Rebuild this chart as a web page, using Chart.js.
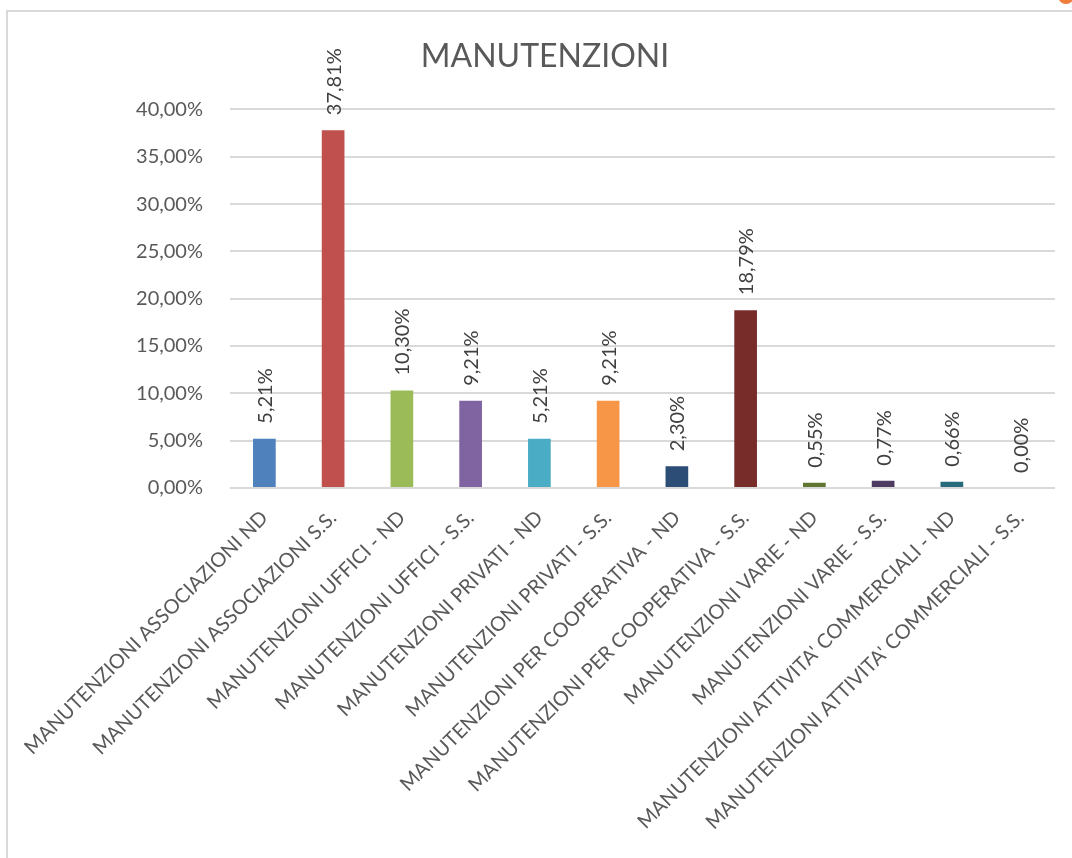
<!DOCTYPE html>
<html>
<head>
<meta charset="utf-8">
<script src="https://cdn.jsdelivr.net/npm/chart.js@4.4.1/dist/chart.umd.min.js"></script>
<style>
    html, body { margin: 0; padding: 0; background: #fff; overflow: hidden; }
    #frame { position: absolute; left: 6px; top: 10px; width: 1100px; height: 900px; border: 2px solid #d9d9d9; box-sizing: border-box; }
    #dot { position: absolute; left: 1058px; top: -12px; width: 16px; height: 16px; border-radius: 50%; background: #ef7d3c; }
    #wrap { position: absolute; left: 0; top: 0; width: 1072px; height: 858px; }
</style>
</head>
<body>
<div id="frame"></div>
<div id="dot"></div>
<div id="wrap"><canvas id="chart"></canvas></div>
<script>
const categories = [
    'MANUTENZIONI ASSOCIAZIONI ND',
    'MANUTENZIONI ASSOCIAZIONI S.S.',
    'MANUTENZIONI UFFICI - ND',
    'MANUTENZIONI UFFICI - S.S.',
    'MANUTENZIONI PRIVATI - ND',
    'MANUTENZIONI PRIVATI - S.S.',
    'MANUTENZIONI PER COOPERATIVA - ND',
    'MANUTENZIONI PER COOPERATIVA - S.S.',
    'MANUTENZIONI VARIE - ND',
    'MANUTENZIONI VARIE - S.S.',
    "MANUTENZIONI ATTIVITA' COMMERCIALI - ND",
    "MANUTENZIONI ATTIVITA' COMMERCIALI - S.S."
];
const values = [5.21, 37.81, 10.30, 9.21, 5.21, 9.21, 2.30, 18.79, 0.55, 0.77, 0.66, 0.00];
const barColors = ['#4F81BD', '#C0504D', '#9BBB59', '#8064A2', '#4BACC6', '#F79646',
                   '#2C4D75', '#772C2A', '#5F7530', '#4D3B62', '#276A7C', '#B65708'];
const yMax = 40;
const yStep = 5;

const FONT = 'Lato, "Open Sans", sans-serif';
const fmtPct = v => v.toFixed(2).replace('.', ',') + '%';

// rotated value labels above each bar
const valueLabels = {
    id: 'valueLabels',
    afterDatasetsDraw(chart) {
        const ctx = chart.ctx;
        const meta = chart.getDatasetMeta(0);
        ctx.save();
        ctx.font = '20px ' + FONT;
        ctx.fillStyle = '#404040';
        ctx.textAlign = 'left';
        ctx.textBaseline = 'middle';
        meta.data.forEach((bar, i) => {
            ctx.save();
            ctx.translate(bar.x + 1, bar.y - 15);
            ctx.rotate(-Math.PI / 2);
            ctx.fillText(fmtPct(values[i]), 0, 0);
            ctx.restore();
        });
        ctx.restore();
    }
};

new Chart(document.getElementById('chart').getContext('2d'), {
    type: 'bar',
    data: {
        labels: categories,
        datasets: [{
            data: values,
            backgroundColor: barColors,
            categoryPercentage: 1,
            barPercentage: 0.33
        }]
    },
    options: {
        responsive: true,
        maintainAspectRatio: false,
        animation: false,
        events: [],
        layout: { padding: { left: 35, right: 17, top: 0, bottom: 0 } },
        plugins: {
            legend: { display: false },
            tooltip: { enabled: false },
            title: {
                display: true,
                text: 'MANUTENZIONI',
                color: '#595959',
                font: { family: FONT, size: 32, weight: 'normal', lineHeight: 1.2 },
                padding: { top: 37, bottom: 34 }
            }
        },
        scales: {
            x: {
                grid: { display: false, drawTicks: false },
                border: { display: false },
                ticks: {
                    color: '#595959',
                    font: { family: FONT, size: 20 },
                    maxRotation: 45,
                    minRotation: 45,
                    autoSkip: false,
                    padding: 18
                },
                afterFit(scale) { scale.height = 370; }
            },
            y: {
                min: 0,
                max: yMax,
                grid: { color: '#d9d9d9', lineWidth: 2, drawTicks: false },
                border: { display: false },
                ticks: {
                    stepSize: yStep,
                    color: '#595959',
                    font: { family: FONT, size: 20 },
                    padding: 27,
                    callback: v => fmtPct(v)
                },
                afterFit(scale) { scale.width = 195; }
            }
        }
    },
    plugins: [valueLabels]
});
</script>
</body>
</html>
